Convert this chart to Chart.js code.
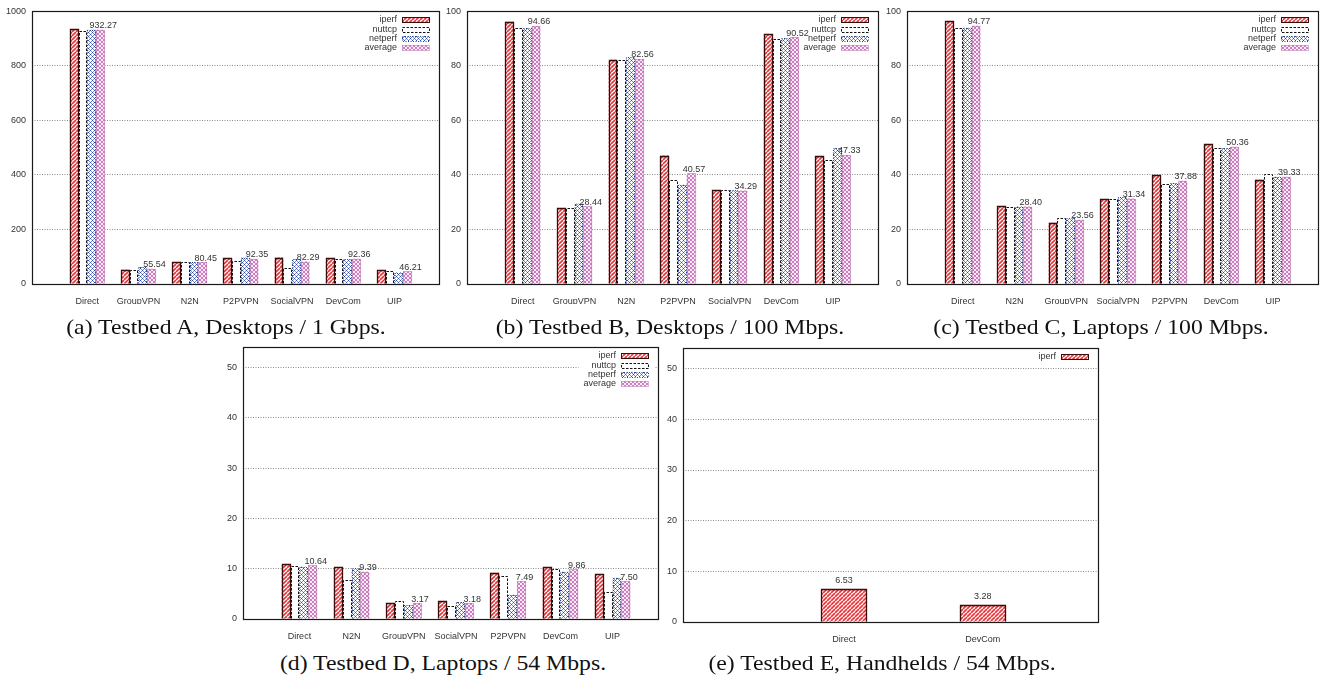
<!DOCTYPE html>
<html>
<head>
<meta charset="utf-8">
<script src="https://cdn.jsdelivr.net/npm/chart.js@4.4.0/dist/chart.umd.min.js"></script>
<style>
  html, body { margin: 0; padding: 0; background: #fff; }
  body { position: relative; width: 1325px; height: 681px; overflow: hidden; }
  canvas { position: absolute; }
  .caption {
    position: absolute;
    font-family: 'Liberation Serif', 'Times New Roman', serif;
    font-size: 21px;
    color: #111;
    white-space: nowrap;
    transform: translate(-50%, -50%) scaleX(1.13);
  }
</style>
</head>
<body>
<canvas id="chartA"></canvas>
<canvas id="chartB"></canvas>
<canvas id="chartC"></canvas>
<canvas id="chartD"></canvas>
<canvas id="chartE"></canvas>
<div class="caption" style="left:226px;top:327px">(a) Testbed A, Desktops / 1 Gbps.</div>
<div class="caption" style="left:670px;top:327px">(b) Testbed B, Desktops / 100 Mbps.</div>
<div class="caption" style="left:1101px;top:327px">(c) Testbed C, Laptops / 100 Mbps.</div>
<div class="caption" style="left:443px;top:663px">(d) Testbed D, Laptops / 54 Mbps.</div>
<div class="caption" style="left:882px;top:663px">(e) Testbed E, Handhelds / 54 Mbps.</div>
<script>
// categories
const catsAB = ['Direct', 'GroupVPN', 'N2N', 'P2PVPN', 'SocialVPN', 'DevCom', 'UIP']
const catsCD = ['Direct', 'N2N', 'GroupVPN', 'SocialVPN', 'P2PVPN', 'DevCom', 'UIP']
const catsE = ['Direct', 'DevCom']

// (a) Testbed A, Desktops / 1 Gbps
const aIperf = [935, 52, 80, 94, 97, 94, 50]
const aNuttcp = [928, 52, 80, 86, 58, 91, 47]
const aNetperf = [933, 62, 81, 97, 92, 92, 42]
const aAverage = [932.27, 55.54, 80.45, 92.35, 82.29, 92.36, 46.21]

// (b) Testbed B, Desktops / 100 Mbps
const bIperf = [96.2, 27.9, 82.3, 47.1, 34.3, 91.7, 46.8]
const bNuttcp = [94.0, 27.9, 82.3, 38.2, 34.3, 89.8, 45.4]
const bNetperf = [93.8, 29.5, 83.1, 36.4, 34.3, 90.1, 49.8]
const bAverage = [94.66, 28.44, 82.56, 40.57, 34.29, 90.52, 47.33]

// (c) Testbed C, Laptops / 100 Mbps
const cIperf = [96.5, 28.6, 22.5, 31.2, 40.0, 51.3, 38.2]
const cNuttcp = [93.8, 28.2, 24.1, 31.0, 36.7, 50.0, 40.5]
const cNetperf = [94.0, 28.4, 24.1, 31.8, 36.9, 49.8, 39.3]
const cAverage = [94.77, 28.40, 23.56, 31.34, 37.88, 50.36, 39.33]

// (d) Testbed D, Laptops / 54 Mbps
const dIperf = [10.9, 10.3, 3.2, 3.6, 9.2, 10.3, 8.9]
const dNuttcp = [10.6, 7.8, 3.6, 2.5, 8.5, 9.9, 5.4]
const dNetperf = [10.4, 10.1, 2.7, 3.4, 4.8, 9.4, 8.2]
const dAverage = [10.64, 9.39, 3.17, 3.18, 7.49, 9.86, 7.50]

// (e) Testbed E, Handhelds / 54 Mbps
const eIperf = [6.53, 3.28]

// y tick labels
const ticksA = [0, 200, 400, 600, 800, 1000]
const ticksBC = [0, 20, 40, 60, 80, 100]
const ticksDE = [0, 10, 20, 30, 40, 50]

const tickFont = { family: 'Liberation Sans', size: 9 }
const textColor = '#333'

// gnuplot-like fill patterns
function makePattern (size, bg, draw) {
  const c = document.createElement('canvas')
  c.width = size
  c.height = size
  const g = c.getContext('2d')
  g.fillStyle = bg
  g.fillRect(0, 0, size, size)
  draw(g, size)
  return g.createPattern(c, 'repeat')
}

const styles = {
  iperf: {
    fill: makePattern(4, '#fff', (g, s) => {
      g.strokeStyle = '#e2393e'
      g.lineWidth = 1.7
      for (const o of [-s, 0, s]) {
        g.beginPath()
        g.moveTo(o, s)
        g.lineTo(o + s, 0)
        g.stroke()
      }
    }),
    color: '#3a0d0d', width: 1.3, dash: []
  },
  nuttcp: { fill: '#fff', color: '#111', width: 1, dash: [2.5, 1.5] },
  netperf: {
    fill: makePattern(4, '#fff', (g) => {
      g.fillStyle = '#2c49ad'
      g.fillRect(0, 0, 1, 1)
      g.fillRect(2, 2, 1, 1)
      g.fillStyle = '#7d90d4'
      g.fillRect(1, 1, 1, 1)
      g.fillRect(3, 3, 1, 1)
      g.fillRect(1, 3, 1, 1)
      g.fillRect(3, 1, 1, 1)
    }),
    color: '#27408f', width: 1.2, dash: [1, 1.5]
  },
  average: {
    fill: makePattern(4, '#fbeef8', (g, s) => {
      g.strokeStyle = '#cf7cc2'
      g.lineWidth = 1
      for (const o of [-s, 0, s]) {
        g.beginPath()
        g.moveTo(o, s)
        g.lineTo(o + s, 0)
        g.stroke()
        g.beginPath()
        g.moveTo(o, 0)
        g.lineTo(o + s, s)
        g.stroke()
      }
    }),
    color: '#b06aa8', width: 1.2, dash: [1, 1]
  }
}

// outlines, frame, key and value labels the gnuplot way
const gnuplotLook = {
  id: 'gnuplotLook',
  afterDatasetsDraw (chart, args, opts) {
    const ctx = chart.ctx
    const area = chart.chartArea
    const sets = chart.data.datasets

    sets.forEach((ds, i) => {
      const st = ds.outline
      ctx.save()
      ctx.strokeStyle = st.color
      ctx.lineWidth = st.width
      ctx.setLineDash(st.dash)
      chart.getDatasetMeta(i).data.forEach((bar) => {
        const l = Math.round(bar.x - bar.width / 2) + 0.5
        const r = Math.round(bar.x + bar.width / 2) - 0.5
        const t = Math.round(bar.y) + 0.5
        ctx.beginPath()
        ctx.moveTo(l, bar.base)
        ctx.lineTo(l, t)
        ctx.lineTo(r, t)
        ctx.lineTo(r, bar.base)
        ctx.stroke()
      })
      ctx.restore()
    })

    // border
    ctx.save()
    ctx.strokeStyle = '#1a1a1a'
    ctx.lineWidth = 1.2
    ctx.strokeRect(Math.round(area.left) + 0.5, Math.round(area.top) + 0.5, Math.round(area.width), Math.round(area.height))
    ctx.restore()

    // key
    ctx.save()
    ctx.font = '9px "Liberation Sans"'
    const sampleR = area.right - 10
    const sampleL = sampleR - 27
    const textR = sampleL - 5
    if (opts.keyBox) {
      const w = Math.max(...sets.map((ds) => ctx.measureText(ds.label).width))
      ctx.fillStyle = '#fff'
      ctx.fillRect(textR - w - 5, area.top + 2, area.right - 3 - (textR - w - 5), sets.length * 9.3 + 7)
    }
    sets.forEach((ds, i) => {
      const y = area.top + 8.5 + i * 9.3
      ctx.fillStyle = textColor
      ctx.textAlign = 'right'
      ctx.textBaseline = 'middle'
      ctx.fillText(ds.label, textR, y)
      ctx.fillStyle = ds.backgroundColor
      ctx.fillRect(sampleL, y - 2.5, 27, 5)
      ctx.strokeStyle = ds.outline.color
      ctx.lineWidth = 1
      ctx.setLineDash(ds.outline.dash)
      ctx.strokeRect(sampleL + 0.5, Math.round(y - 2.5) + 0.5, 27, 5)
      ctx.setLineDash([])
    })
    ctx.restore()

    // value labels above the chosen series
    const meta = chart.getDatasetMeta(opts.labelSet)
    const vals = sets[opts.labelSet].data
    ctx.save()
    ctx.font = '9px "Liberation Sans"'
    ctx.fillStyle = textColor
    ctx.textAlign = 'center'
    ctx.textBaseline = 'alphabetic'
    meta.data.forEach((bar, i) => {
      ctx.fillText(vals[i].y.toFixed(2), bar.x + opts.labelShift, bar.y - opts.labelGap)
    })
    ctx.restore()
  }
}

function drawPanel (id, box, cats, series, yTicks, yMax, xMin, xMax, catPct, plug) {
  const canvas = document.getElementById(id)
  canvas.width = box.r - box.l + 44
  canvas.height = box.b - box.t + 30
  canvas.style.left = (box.l - 40) + 'px'
  canvas.style.top = (box.t - 10) + 'px'
  new Chart(canvas.getContext('2d'), {
    type: 'bar',
    data: {
      datasets: series.map((s) => ({
        label: s.label,
        data: s.data.map((v, i) => ({ x: i, y: v })),
        backgroundColor: s.style.fill,
        borderWidth: 0,
        outline: s.style,
        categoryPercentage: catPct,
        barPercentage: 1
      }))
    },
    options: {
      responsive: false,
      animation: false,
      events: [],
      layout: { padding: { top: 10, right: 4, left: 0, bottom: 0 } },
      plugins: {
        legend: { display: false },
        tooltip: { enabled: false },
        gnuplotLook: plug
      },
      scales: {
        x: {
          type: 'linear',
          min: xMin,
          max: xMax,
          bounds: 'data',
          offset: false,
          grid: { display: false },
          border: { display: false },
          afterBuildTicks: (axis) => { axis.ticks = cats.map((c, i) => ({ value: i })) },
          afterFit: (axis) => { axis.height = 20 },
          ticks: {
            autoSkip: false,
            maxRotation: 0,
            padding: 4,
            color: textColor,
            font: tickFont,
            callback: (v) => cats[v]
          }
        },
        y: {
          min: 0,
          max: yMax,
          bounds: 'data',
          afterBuildTicks: (axis) => { axis.ticks = yTicks.map((v) => ({ value: v })) },
          afterFit: (axis) => { axis.width = 40 },
          grid: { color: '#8a8a8a', lineWidth: 1, drawTicks: false },
          border: { display: false, dash: [1, 1.5] },
          ticks: {
            padding: 6,
            color: textColor,
            font: tickFont,
            callback: (v) => String(v)
          }
        }
      }
    },
    plugins: [gnuplotLook]
  })
}

function four (ip, nu, ne, av) {
  return [
    { label: 'iperf', data: ip, style: styles.iperf },
    { label: 'nuttcp', data: nu, style: styles.nuttcp },
    { label: 'netperf', data: ne, style: styles.netperf },
    { label: 'average', data: av, style: styles.average }
  ]
}

const clusterLabels = { labelSet: 3, labelShift: 3, labelGap: 1.5 }

drawPanel('chartA', { l: 32, t: 10, r: 439, b: 284 }, catsAB,
  four(aIperf, aNuttcp, aNetperf, aAverage), ticksA, 1000, -1.08, 6.87, 0.68, clusterLabels)
drawPanel('chartB', { l: 467, t: 10, r: 878, b: 284 }, catsAB,
  four(bIperf, bNuttcp, bNetperf, bAverage), ticksBC, 100, -1.08, 6.87, 0.68, clusterLabels)
drawPanel('chartC', { l: 907, t: 10, r: 1318, b: 284 }, catsCD,
  four(cIperf, cNuttcp, cNetperf, cAverage), ticksBC, 100, -1.08, 6.87, 0.68, clusterLabels)
drawPanel('chartD', { l: 243, t: 346, r: 658, b: 619 }, catsCD,
  four(dIperf, dNuttcp, dNetperf, dAverage), ticksDE, 54, -1.08, 6.87, 0.68,
  { labelSet: 3, labelShift: 3, labelGap: 1.5, keyBox: true })
drawPanel('chartE', { l: 683, t: 347, r: 1098, b: 622 }, catsE,
  [{ label: 'iperf', data: eIperf, style: styles.iperf }], ticksDE, 54, -1.16, 1.83, 0.33,
  { labelSet: 0, labelShift: 0, labelGap: 6 })
</script>
</body>
</html>
